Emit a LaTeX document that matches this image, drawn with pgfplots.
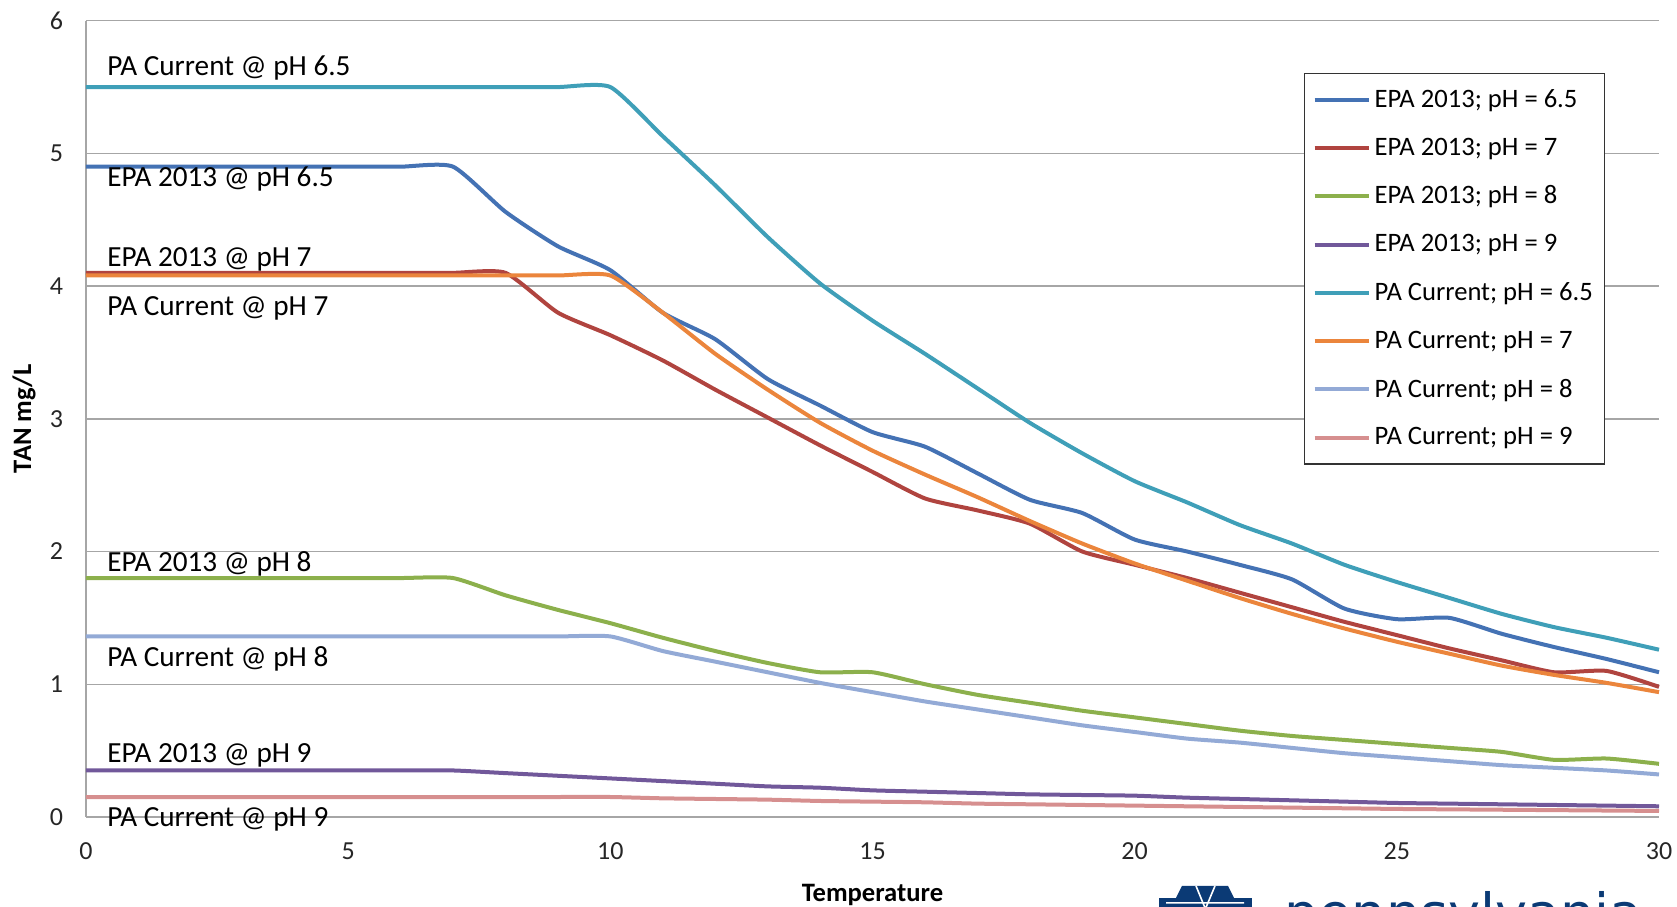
\documentclass[border=0pt]{standalone}
\usepackage{fontspec}
\setmainfont{Carlito}
\newfontfamily\logofont{DejaVu Sans}
\usepackage{pgfplots}
\usepackage{pgfplotstable}
\pgfplotsset{compat=1.18}

\definecolor{cEPAa}{HTML}{4472B4}
\definecolor{cEPAb}{HTML}{B0443F}
\definecolor{cEPAc}{HTML}{8CB04C}
\definecolor{cEPAd}{HTML}{71589A}
\definecolor{cPAa}{HTML}{3F9FB8}
\definecolor{cPAb}{HTML}{EB853C}
\definecolor{cPAc}{HTML}{93AAD6}
\definecolor{cPAd}{HTML}{D68F8F}
\definecolor{gridgray}{HTML}{A6A6A6}
\definecolor{pennavy}{HTML}{0B3A75}

% TAN (mg/L) against temperature, one column per curve
\pgfplotstableread{
T  epa65 epa7 epa8 epa9  pa65 pa7  pa8  pa9
0  4.90  4.10 1.80 0.35  5.50 4.08 1.36 0.15
1  4.90  4.10 1.80 0.35  5.50 4.08 1.36 0.15
2  4.90  4.10 1.80 0.35  5.50 4.08 1.36 0.15
3  4.90  4.10 1.80 0.35  5.50 4.08 1.36 0.15
4  4.90  4.10 1.80 0.35  5.50 4.08 1.36 0.15
5  4.90  4.10 1.80 0.35  5.50 4.08 1.36 0.15
6  4.90  4.10 1.80 0.35  5.50 4.08 1.36 0.15
7  4.90  4.10 1.80 0.35  5.50 4.08 1.36 0.15
8  4.56  4.10 1.67 0.33  5.50 4.08 1.36 0.15
9  4.30  3.80 1.56 0.31  5.50 4.08 1.36 0.15
10 4.12  3.63 1.46 0.29  5.50 4.08 1.36 0.15
11 3.80  3.44 1.35 0.27  5.13 3.80 1.25 0.14
12 3.60  3.22 1.25 0.25  4.76 3.49 1.17 0.135
13 3.30  3.01 1.16 0.23  4.37 3.22 1.09 0.13
14 3.10  2.80 1.09 0.22  4.02 2.97 1.01 0.12
15 2.90  2.60 1.09 0.20  3.74 2.76 0.94 0.115
16 2.79  2.40 1.00 0.19  3.49 2.58 0.87 0.11
17 2.59  2.31 0.92 0.18  3.23 2.41 0.81 0.10
18 2.39  2.21 0.86 0.17  2.97 2.23 0.75 0.095
19 2.29  2.00 0.80 0.165 2.74 2.06 0.69 0.09
20 2.09  1.90 0.75 0.16  2.53 1.91 0.64 0.085
21 2.00  1.80 0.70 0.145 2.37 1.78 0.59 0.08
22 1.90  1.69 0.65 0.135 2.20 1.65 0.56 0.075
23 1.79  1.58 0.61 0.125 2.06 1.53 0.52 0.07
24 1.57  1.47 0.58 0.115 1.90 1.42 0.48 0.065
25 1.49  1.37 0.55 0.105 1.77 1.32 0.45 0.06
26 1.50  1.27 0.52 0.10  1.65 1.23 0.42 0.057
27 1.38  1.18 0.49 0.095 1.53 1.14 0.39 0.054
28 1.28  1.09 0.43 0.09  1.43 1.07 0.37 0.051
29 1.19  1.10 0.44 0.085 1.35 1.01 0.35 0.048
30 1.09  0.98 0.40 0.08  1.26 0.94 0.32 0.045
}\tandata

\begin{document}
\begin{tikzpicture}
  \begin{axis}[
      width=786.5pt, height=398.1pt, scale only axis,
      xmin=0, xmax=30, ymin=0, ymax=6,
      xtick={0,5,...,30}, ytick={0,1,...,6},
      axis x line*=bottom, axis y line*=left,
      axis line style={draw=gridgray, line width=0.7pt, -},
      major tick length=0pt,
      ymajorgrids, grid style={draw=gridgray, line width=0.7pt},
      /pgf/number format/assume math mode=true,
      tick label style={font=\fontsize{13}{15}\selectfont, text=black!85},
      yticklabel style={xshift=-8pt},
      xticklabel style={yshift=-9.5pt},
      xlabel={Temperature}, ylabel={TAN mg/L},
      label style={font=\fontsize{13.3}{15}\selectfont\bfseries},
      xlabel style={at={(axis description cs:0.5,0)}, anchor=center, yshift=-39pt},
      ylabel style={at={(axis description cs:-0.0394,0.5)}, anchor=center},
      clip=false,
      every axis plot/.append style={line width=2pt, smooth, tension=0.35},
      legend cell align=left,
      legend style={at={(rel axis cs:0.7743,0.9347)}, anchor=north west,
        draw=black!80, line width=0.7pt, fill=white,
        font=\fontsize{13.3}{15}\selectfont, row sep=9.8pt,
        inner xsep=4pt, inner ysep=6pt},
      legend image code/.code={\draw[#1, line width=2pt] (0pt,0pt) -- (27pt,0pt);},
    ]
    \addplot[cEPAa] table[x=T, y=epa65] {\tandata};
    \addplot[cEPAb] table[x=T, y=epa7] {\tandata};
    \addplot[cEPAc] table[x=T, y=epa8] {\tandata};
    \addplot[cEPAd] table[x=T, y=epa9] {\tandata};
    \addplot[cPAa] table[x=T, y=pa65] {\tandata};
    \addplot[cPAb] table[x=T, y=pa7] {\tandata};
    \addplot[cPAc] table[x=T, y=pa8] {\tandata};
    \addplot[cPAd] table[x=T, y=pa9] {\tandata};
    \legend{EPA 2013; pH = 6.5, EPA 2013; pH = 7, EPA 2013; pH = 8, EPA 2013; pH = 9,
      PA Current; pH = 6.5, PA Current; pH = 7, PA Current; pH = 8, PA Current; pH = 9}

    \begin{scope}[every node/.style={anchor=base west, inner sep=0pt,
        font=\fontsize{14.6}{16}\selectfont}]
      \node at (axis cs:0.40,5.59) {PA Current @ pH 6.5};
      \node at (axis cs:0.40,4.75) {EPA 2013 @ pH 6.5};
      \node at (axis cs:0.40,4.15) {EPA 2013 @ pH 7};
      \node at (axis cs:0.40,3.78) {PA Current @ pH 7};
      \node at (axis cs:0.40,1.85) {EPA 2013 @ pH 8};
      \node at (axis cs:0.40,1.13) {PA Current @ pH 8};
      \node at (axis cs:0.40,0.41) {EPA 2013 @ pH 9};
      \node at (axis cs:0.40,-0.07) {PA Current @ pH 9};
    \end{scope}
  \end{axis}

  % logo, cut off by the lower edge
  \fill[pennavy] (536.5pt,-46pt) rectangle (583pt,-40.5pt);
  \fill[pennavy] (545pt,-40.5pt) -- (548pt,-34.5pt) -- (571pt,-34.5pt) -- (574pt,-40.5pt) -- cycle;
  \draw[white, line width=0.8pt] (559.7pt,-46pt) -- (555pt,-34.5pt) (559.7pt,-46pt) -- (564.5pt,-34.5pt)
    (540pt,-43pt) -- (579pt,-43pt);
  \node[anchor=base west, inner sep=0pt, text=pennavy, font=\logofont\fontsize{27}{27}\selectfont]
    at (599pt,-57.8pt) {pennsylvania};

  \pgfresetboundingbox
  \useasboundingbox (-43pt,-45pt) rectangle (795.5pt,408.45pt);
\end{tikzpicture}
\end{document}
